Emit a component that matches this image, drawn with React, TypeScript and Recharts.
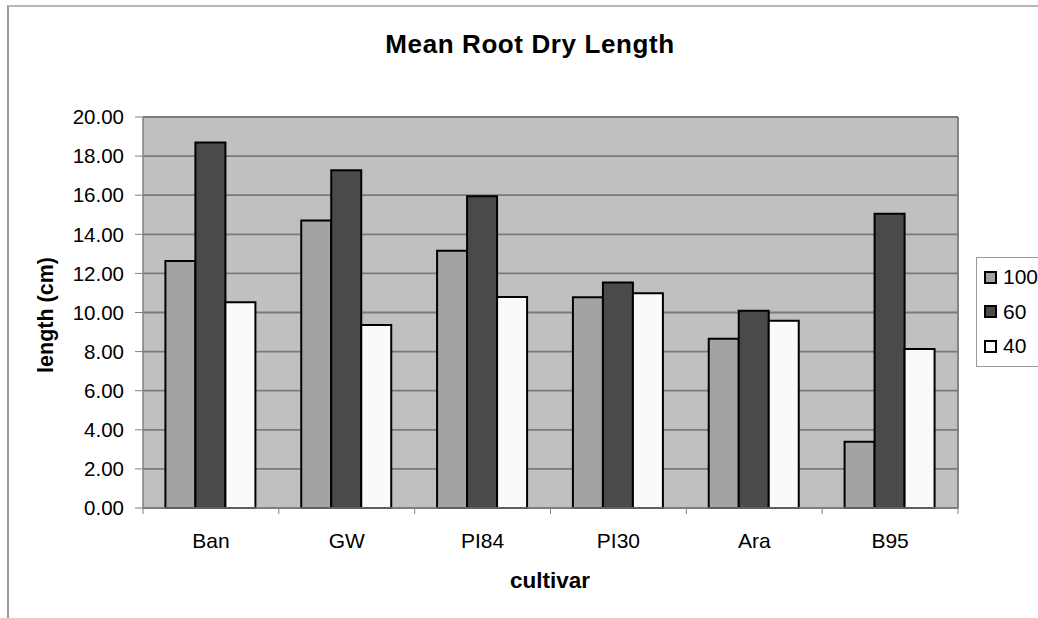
import React from 'react';
import { BarChart, Bar, XAxis, YAxis, CartesianGrid } from 'recharts';

const categories = ['Ban', 'GW', 'PI84', 'PI30', 'Ara', 'B95'];
const series100 = [12.63, 14.7, 13.16, 10.78, 8.66, 3.39];
const series60 = [18.69, 17.27, 15.94, 11.54, 10.09, 15.05];
const series40 = [10.52, 9.36, 10.79, 10.98, 9.58, 8.13];
const yTicks = [0, 2, 4, 6, 8, 10, 12, 14, 16, 18, 20];

const SERIES = [
  { key: 's100', name: '100', color: '#a3a3a3' },
  { key: 's60', name: '60', color: '#4a4a4a' },
  { key: 's40', name: '40', color: '#fafafa' },
];

const data = categories.map((c, i) => ({
  cultivar: c,
  s100: series100[i],
  s60: series60[i],
  s40: series40[i],
}));

// chart sits at page (8, 8)
const W = 1030;
const H = 610;
const M = { top: 109, right: 80, bottom: 0, left: 0 };
const Y_W = 135;
const X_H = 110;
const PLOT_W = W - M.left - M.right - Y_W;
const FONT = '"Liberation Sans", Arial, sans-serif';

const CultivarTick = (props: any) => {
  const { x, y, payload, index } = props;
  const bw = PLOT_W / categories.length;
  const last = index === categories.length - 1;
  return (
    <g>
      <line x1={x - bw / 2} y1={y} x2={x - bw / 2} y2={y + 6} stroke="#808080" />
      {last && <line x1={x + bw / 2} y1={y} x2={x + bw / 2} y2={y + 6} stroke="#808080" />}
      <text x={x} y={y + 40} textAnchor="middle" fill="#000" fontSize={21} fontFamily={FONT}>
        {payload.value}
      </text>
    </g>
  );
};

const LegendBox = () => (
  <div
    style={{
      position: 'absolute',
      left: 976,
      top: 257,
      width: 80,
      height: 110,
      border: '1px solid #9a9a9a',
      background: '#fff',
      boxSizing: 'border-box',
      paddingTop: 2,
      fontFamily: FONT,
    }}
  >
    {SERIES.map((s) => (
      <div key={s.key} style={{ display: 'flex', alignItems: 'center', height: 34.5, paddingLeft: 7 }}>
        <span
          style={{
            width: 13,
            height: 13,
            background: s.color,
            border: '2px solid #000',
            boxSizing: 'border-box',
            display: 'inline-block',
            marginRight: 6,
          }}
        />
        <span style={{ fontSize: 21, color: '#000' }}>{s.name}</span>
      </div>
    ))}
  </div>
);

export default function App() {
  return (
    <div
      style={{
        position: 'absolute',
        left: 0,
        top: 0,
        width: 1038,
        height: 618,
        overflow: 'hidden',
        background: '#fff',
      }}
    >
      <div
        style={{
          position: 'absolute',
          left: 7,
          top: 5,
          width: 1100,
          height: 700,
          borderLeft: '2px solid #9a9a9a',
          borderTop: '2px solid #b8b8b8',
        }}
      />
      <div style={{ position: 'absolute', left: 8, top: 8 }}>
        <BarChart width={W} height={H} data={data} margin={M} barCategoryGap="16.5%" barGap={0}>
          <CartesianGrid
            fill="#c0c0c0"
            stroke="#7a7a7a"
            strokeWidth={1.8}
            vertical
            verticalCoordinatesGenerator={({ offset }: any) => [offset.left + offset.width]}
          />
          <XAxis
            dataKey="cultivar"
            height={X_H}
            axisLine={{ stroke: '#808080', strokeWidth: 1.5 }}
            tickLine={false}
            tickSize={0}
            tickMargin={0}
            tick={<CultivarTick />}
            interval={0}
          />
          <YAxis
            width={Y_W}
            domain={[0, 20]}
            ticks={yTicks}
            interval={0}
            tickFormatter={(v: number) => v.toFixed(2)}
            axisLine={{ stroke: '#808080', strokeWidth: 1.5 }}
            tickLine={{ stroke: '#808080' }}
            tickSize={8}
            tickMargin={11}
            tick={{ fill: '#000', fontSize: 20.5, fontFamily: FONT }}
          />
          {SERIES.map((s) => (
            <Bar
              key={s.key}
              dataKey={s.key}
              name={s.name}
              fill={s.color}
              stroke="#000"
              strokeWidth={2}
              isAnimationActive={false}
            />
          ))}
        </BarChart>
      </div>
      <svg
        width={1038}
        height={618}
        style={{ position: 'absolute', left: 0, top: 0, pointerEvents: 'none' }}
        fontFamily={FONT}
        fontWeight="bold"
        fill="#000"
      >
        <text x={530} y={53} textAnchor="middle" fontSize={26} letterSpacing={0.6}>
          Mean Root Dry Length
        </text>
        <text x={53} y={315} textAnchor="middle" fontSize={21.5} transform="rotate(-90, 53, 315)">
          length (cm)
        </text>
        <text x={550} y={588} textAnchor="middle" fontSize={22.5}>
          cultivar
        </text>
      </svg>
      <LegendBox />
    </div>
  );
}
